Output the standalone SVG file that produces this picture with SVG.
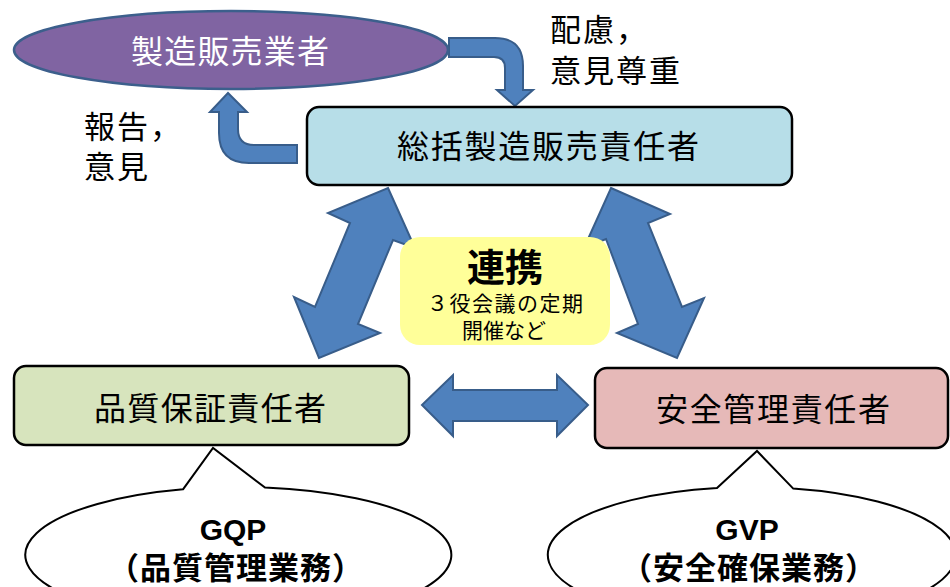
<svg xmlns="http://www.w3.org/2000/svg" width="950" height="587" viewBox="0 0 950 587">
<style>
  text { font-family: "Liberation Sans", "Noto Sans CJK JP", sans-serif; fill: #000; }
  .c { text-anchor: middle; }
  .box { stroke: #000; stroke-width: 2.5; }
  .arrow { fill: #4F81BD; stroke: #385D8A; stroke-width: 2; stroke-linejoin: miter; }
  .callout { fill: #fff; stroke: #000; stroke-width: 2; }
  .big { font-size: 32px; }
  .lbl { font-size: 31px; letter-spacing: 2px; }
  .bold { font-weight: bold; }
  .sub { font-size: 31px; font-weight: bold; letter-spacing: 1px; }
</style>
<rect width="950" height="587" fill="#fff"/>

<g id="connectors">
  <path class="arrow" d="M297,145 L254,145 Q238,145 238,129 L238,112 L247,112 L228,93 L210,112 L219,112 L219,133 Q219,163 249,163 L297,163 Z"/>
  <path class="arrow" d="M449,38 L495,38 Q523,38 523,66 L523,90 L533,90 L515,106 L497,90 L505,90 L505,68 Q505,57 494,57 L449,57 Z"/>
  <polygon class="arrow" points="388,188 415,248 393,240 358,324 380,333 319,358 294,297 315,307 350,223 328,213"/>
  <polygon class="arrow" points="611,188 670,214 648,223 682,307 704,298 677,358 617,333 638,324 606,239 584,248"/>
  <polygon class="arrow" points="422,405 453,375 453,390 557,390 557,375 588,405 557,436 557,421 453,421 453,436"/>
</g>

<g id="label-left">
  <text class="lbl" x="84" y="138">報告，</text>
  <text class="lbl" x="84" y="178">意見</text>
</g>
<g id="label-right">
  <text class="lbl" x="550" y="41">配慮，</text>
  <text class="lbl" x="550" y="82">意見尊重</text>
</g>

<g id="node-mah">
  <ellipse cx="231" cy="50" rx="217" ry="39" fill="#8064A2" stroke="#3C5F8C" stroke-width="2.5"/>
  <text class="big c" x="230" y="63" style="fill:#fff" textLength="198" lengthAdjust="spacing">製造販売業者</text>
</g>

<g id="node-general">
  <rect class="box" x="307" y="107" width="485" height="78" rx="12" fill="#B7DEE8"/>
  <text class="big c" x="548" y="158" textLength="302" lengthAdjust="spacing">総括製造販売責任者</text>
</g>

<g id="node-link">
  <rect x="400" y="237" width="210" height="108" rx="20" fill="#FFFF99"/>
  <text class="c bold" x="505" y="281" style="font-size:38px">連携</text>
  <text class="c" x="505" y="311" style="font-size:21px" textLength="156" lengthAdjust="spacing">３役会議の定期</text>
  <text class="c" x="504" y="338" style="font-size:21px">開催など</text>
</g>

<g id="node-qa">
  <rect class="box" x="14" y="366" width="395" height="79" rx="12" fill="#D7E4BD"/>
  <text class="big c" x="210" y="420" textLength="232" lengthAdjust="spacing">品質保証責任者</text>
</g>

<g id="node-safety">
  <rect class="box" x="595" y="368" width="353" height="80" rx="12" fill="#E6B9B8"/>
  <text class="big c" x="773" y="421" textLength="234" lengthAdjust="spacing">安全管理責任者</text>
</g>

<g id="node-gqp">
  <path class="callout" d="M183,489.3 L213,448 L265,487.5 A213,68 0 1 1 183,489.3 Z"/>
  <text class="c bold" x="233" y="540" style="font-size:30px">GQP</text>
  <text class="c sub" x="236" y="579">（品質管理業務）</text>
</g>

<g id="node-gvp">
  <path class="callout" d="M717,488 L757,451 L793,488.4 A204,68 0 1 1 717,488 Z"/>
  <text class="c bold" x="747" y="540" style="font-size:30px">GVP</text>
  <text class="c sub" x="749" y="579">（安全確保業務）</text>
</g>
</svg>
